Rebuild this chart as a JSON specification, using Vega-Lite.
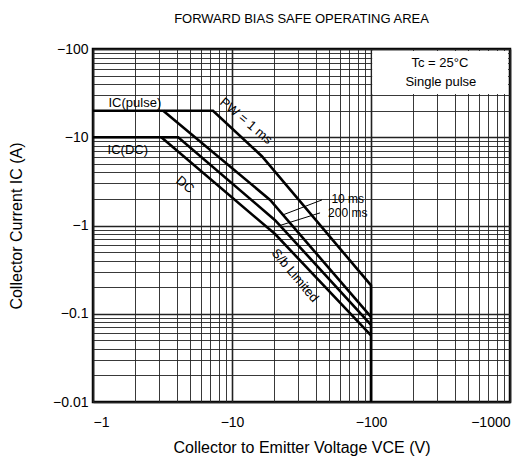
{
  "$schema": "https://vega.github.io/schema/vega-lite/v6.json",
  "autosize": "none",
  "width": 417,
  "height": 353,
  "padding": {"left": 93, "top": 49, "right": 21, "bottom": 66},
  "title": {"text": "FORWARD BIAS SAFE OPERATING AREA", "fontSize": 13, "font": "Liberation Sans", "fontWeight": "normal", "anchor": "middle", "offset": 16, "color": "black"},
  "config": {
    "view": {"stroke": "black", "strokeWidth": 2.5},
    "axis": {"labelFont": "Liberation Sans", "labelFontSize": 14, "labelColor": "black", "titleFont": "Liberation Sans", "titleFontSize": 16, "titleFontWeight": "normal", "titleColor": "black", "domain": false, "ticks": false, "grid": true, "gridColor": "#222", "gridOpacity": 1}
  },
  "datasets": {
    "curves": [
      {"series": "1 ms", "order": 1, "V": 1, "I": 20},
      {"series": "1 ms", "order": 2, "V": 7.3, "I": 20},
      {"series": "1 ms", "order": 3, "V": 16.4, "I": 6.1},
      {"series": "1 ms", "order": 4, "V": 100, "I": 0.21},
      {"series": "1 ms", "order": 5, "V": 100, "I": 0.01},
      {"series": "10 ms", "order": 1, "V": 3.2, "I": 20},
      {"series": "10 ms", "order": 2, "V": 18.8, "I": 1.95},
      {"series": "10 ms", "order": 3, "V": 100, "I": 0.092},
      {"series": "200 ms", "order": 1, "V": 1, "I": 10},
      {"series": "200 ms", "order": 2, "V": 4.1, "I": 10},
      {"series": "200 ms", "order": 3, "V": 20.4, "I": 1.15},
      {"series": "200 ms", "order": 4, "V": 100, "I": 0.075},
      {"series": "DC", "order": 1, "V": 3.1, "I": 10},
      {"series": "DC", "order": 2, "V": 20.4, "I": 0.8},
      {"series": "DC", "order": 3, "V": 100, "I": 0.057}
    ]
  },
  "encoding": {
    "x": {"field": "V", "type": "quantitative",
      "scale": {"type": "log", "domain": [1, 1000]},
      "axis": {"title": "Collector to Emitter Voltage  VCE  (V)", "values": [1,2,3,4,5,6,7,8,9,10,20,30,40,50,60,70,80,90,100,200,300,400,500,600,700,800,900,1000],
        "labelExpr": "indexof([1,10,100,1000], datum.value) >= 0 ? '−' + datum.value : ''",
        "labelPadding": 13, "titlePadding": 10, "labelOverlap": false,
        "gridWidth": {"condition": {"test": "indexof([1,10,100,1000], datum.value) >= 0", "value": 1.6}, "value": 0.9}}},
    "y": {"field": "I", "type": "quantitative",
      "scale": {"type": "log", "domain": [0.01, 100]},
      "axis": {"title": "Collector Current  IC  (A)", "values": [0.01,0.02,0.03,0.04,0.05,0.06,0.07,0.08,0.09,0.1,0.2,0.3,0.4,0.5,0.6,0.7,0.8,0.9,1,2,3,4,5,6,7,8,9,10,20,30,40,50,60,70,80,90,100],
        "labelExpr": "indexof([0.01,0.1,1,10,100], datum.value) >= 0 ? '−' + datum.value : ''",
        "labelPadding": 5, "titlePadding": 28, "labelOverlap": false,
        "gridWidth": {"condition": {"test": "indexof([0.01,0.1,1,10,100], datum.value) >= 0", "value": 1.6}, "value": 0.9}}}
  },
  "layer": [
    {
      "data": {"values": [{"V": 102, "V2": 968, "I": 31, "I2": 95}]},
      "mark": {"type": "rect", "fill": "white", "stroke": null},
      "encoding": {"x2": {"field": "V2"}, "y2": {"field": "I2"}}
    },
    {
      "data": {"name": "curves"},
      "mark": {"type": "line", "color": "black", "strokeWidth": 2.6, "clip": true},
      "encoding": {"detail": {"field": "series"}, "order": {"field": "order", "type": "quantitative"}}
    },
    {
      "data": {"values": [{"V": 44.4, "I": 1.95, "V2": 23.3, "I2": 1.32}, {"V": 43, "I": 1.39, "V2": 22.1, "I2": 1.0}]},
      "mark": {"type": "rule", "color": "black", "strokeWidth": 1},
      "encoding": {"x2": {"field": "V2"}, "y2": {"field": "I2"}}
    },
    {
      "data": {"values": [{"label": "Tc = 25°C", "V": 313, "I": 69}, {"label": "Single pulse", "V": 318, "I": 42.3}, {"label": "IC(pulse)", "V": 2.0, "I": 24.4}, {"label": "IC(DC)", "V": 1.78, "I": 7.2}]},
      "mark": {"type": "text", "font": "Liberation Sans", "fontSize": 13, "color": "black", "align": "center", "baseline": "middle"},
      "encoding": {"text": {"field": "label"}}
    },
    {
      "data": {"values": [{"label": "10 ms", "V": 68, "I": 2.0}, {"label": "200 ms", "V": 68, "I": 1.38}]},
      "mark": {"type": "text", "font": "Liberation Sans", "fontSize": 12, "color": "black", "align": "center", "baseline": "middle"},
      "encoding": {"text": {"field": "label"}}
    },
    {
      "data": {"values": [{"label": "PW = 1 ms", "V": 12.6, "I": 15.3}, {"label": "DC", "V": 4.6, "I": 2.9}]},
      "mark": {"type": "text", "font": "Liberation Sans", "fontSize": 13, "color": "black", "align": "center", "baseline": "middle", "angle": 40},
      "encoding": {"text": {"field": "label"}}
    },
    {
      "data": {"values": [{"label": "S/b Limited", "V": 28.4, "I": 0.27}]},
      "mark": {"type": "text", "font": "Liberation Sans", "fontSize": 13, "color": "black", "align": "center", "baseline": "middle", "angle": 50},
      "encoding": {"text": {"field": "label"}}
    }
  ]
}
